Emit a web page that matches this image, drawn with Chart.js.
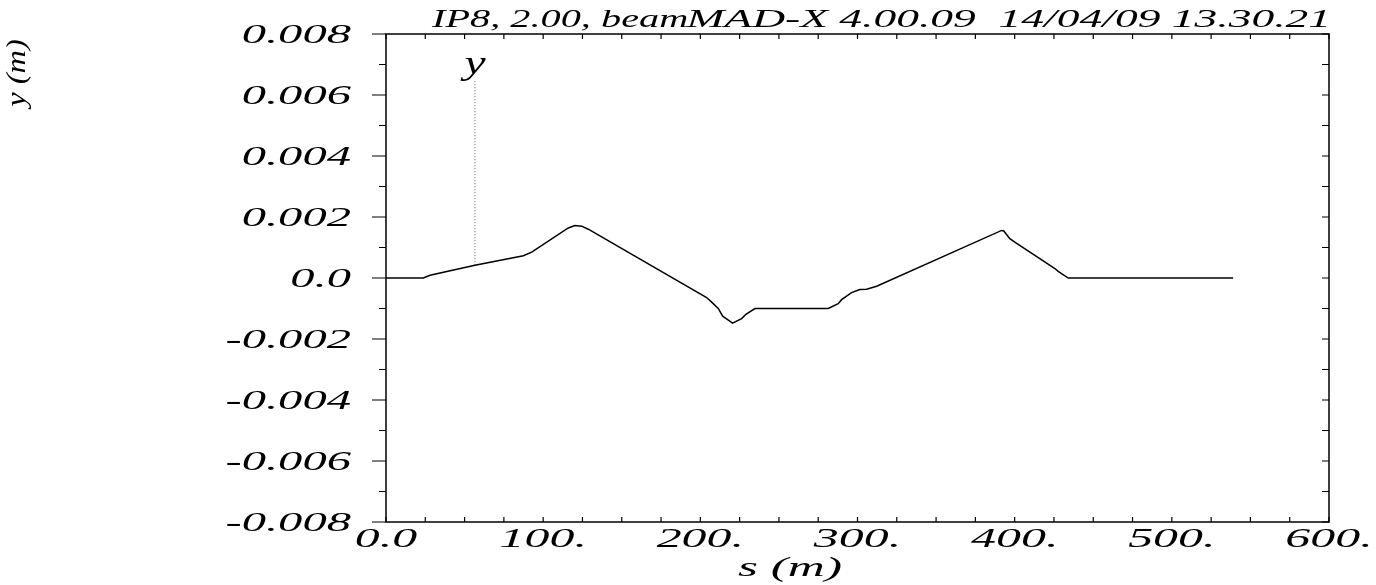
<!DOCTYPE html>
<html>
<head>
<meta charset="utf-8">
<script src="https://cdn.jsdelivr.net/npm/chart.js@4.4.1/dist/chart.umd.min.js"></script>
<style>
  body { margin: 0; background: #fff; }
  #wrap { width: 1376px; height: 585px; position: relative; }
</style>
</head>
<body>
<div id="wrap"><canvas id="orbit"></canvas></div>
<script>
// orbit y(s)
var sPos = [0, 23.8, 28, 56.6, 87.4, 92.7, 116, 120.2, 124.5, 128.7, 204, 207.2, 211.4, 214.2, 216.7,
            220.5, 226.3, 229, 234.7, 281.4, 287.7, 289.9, 296.2, 301.5, 305.8, 312.2, 391.7, 393.1,
            396.9, 400.8, 425.6, 427.7, 434.1, 539];
var yOrbit = [0, 0, 0.00009, 0.00042, 0.00073, 0.00085, 0.00164, 0.00172, 0.0017, 0.0016, -0.00064,
              -0.00079, -0.001, -0.00125, -0.00134, -0.00148, -0.00133, -0.00119, -0.001, -0.001,
              -0.00084, -0.00071, -0.00048, -0.00038, -0.00037, -0.00027, 0.00156, 0.00154, 0.00129,
              0.00115, 0.00031, 0.00022, 0, 0];

// the dotted "y" marker
var markerS = [56.6, 56.6];
var markerY = [0.00042, 0.0065];
var markerLabel = 'y';
var markerLabelY = 0.0069;

// tick labels
var xTickVals = [0, 100, 200, 300, 400, 500, 600];
var xTickLabels = ['0.0', '100.', '200.', '300.', '400.', '500.', '600.'];
var yTickVals = [0.008, 0.006, 0.004, 0.002, 0, -0.002, -0.004, -0.006, -0.008];
var yTickLabels = ['0.008', '0.006', '0.004', '0.002', '0.0', '-0.002', '-0.004', '-0.006', '-0.008'];

var titleLeft = 'IP8, 2.00, beam';
var titleRight = 'MAD-X 4.00.09  14/04/09 13.30.21';
var xTitle = 's (m)';
var yTitle = 'y (m)';

function serif(px) { return 'italic ' + px + 'px "Liberation Serif", serif'; }

function stretchText(ctx, txt, x, y, sx, align, font) {
  ctx.save();
  ctx.font = font;
  ctx.textBaseline = 'alphabetic';
  var w = ctx.measureText(txt).width * sx;
  var x0 = x;
  if (align === 'right') x0 = x - w;
  else if (align === 'center') x0 = x - w / 2;
  ctx.translate(x0, y);
  ctx.scale(sx, 1);
  ctx.fillText(txt, 0, 0);
  ctx.restore();
}

function near(a, b) { return Math.abs(a - b) < 1e-9; }

var madFrame = {
  id: 'madFrame',
  afterDraw: function (chart) {
    var ctx = chart.ctx;
    var a = chart.chartArea;
    var xs = chart.scales.x, ys = chart.scales.y;
    ctx.save();
    ctx.strokeStyle = '#000';
    ctx.fillStyle = '#000';
    ctx.lineWidth = 1.5;
    ctx.strokeRect(a.left, a.top, a.right - a.left, a.bottom - a.top);

    ctx.lineWidth = 1.2;
    ctx.beginPath();
    ys.ticks.forEach(function (t) {
      var py = ys.getPixelForValue(t.value);
      var major = yTickVals.some(function (v) { return near(v, t.value); });
      ctx.moveTo(a.left - (major ? 14 : 7), py); ctx.lineTo(a.left, py);
      ctx.moveTo(a.right - 7, py); ctx.lineTo(a.right, py);
    });
    xs.ticks.forEach(function (t) {
      var px = xs.getPixelForValue(t.value);
      ctx.moveTo(px, a.top); ctx.lineTo(px, a.top + 5);
      ctx.moveTo(px, a.bottom); ctx.lineTo(px, a.bottom - 5);
    });
    ctx.stroke();

    // tick labels
    yTickVals.forEach(function (v, i) {
      stretchText(ctx, yTickLabels[i], a.left - 35, ys.getPixelForValue(v) + 9, 1.8, 'right', serif(27));
    });
    xTickVals.forEach(function (v, i) {
      stretchText(ctx, xTickLabels[i], xs.getPixelForValue(v), a.bottom + 25, 1.85, 'center', serif(27));
    });

    // titles
    stretchText(ctx, titleLeft, 432, 27, 1.55, 'left', serif(26));
    stretchText(ctx, titleRight, 1331, 27, 1.75, 'right', serif(26));
    stretchText(ctx, xTitle, 790, 576, 1.9, 'center', serif(27));

    ctx.save();
    ctx.translate(25, 73);
    ctx.rotate(-Math.PI / 2);
    stretchText(ctx, yTitle, 0, 0, 1.2, 'center', serif(27));
    ctx.restore();

    // marker label
    stretchText(ctx, markerLabel, xs.getPixelForValue(markerS[0]), ys.getPixelForValue(markerLabelY) + 6,
                1.4, 'center', serif(34));
    ctx.restore();
  }
};

var ctx = document.getElementById('orbit');
var chart = new Chart(ctx, {
  type: 'line',
  data: {
    datasets: [{
      data: sPos.map(function (s, i) { return { x: s, y: yOrbit[i] }; }),
      borderColor: '#000',
      borderWidth: 1.5,
      pointRadius: 0,
      tension: 0
    }, {
      data: markerS.map(function (s, i) { return { x: s, y: markerY[i] }; }),
      borderColor: '#555',
      borderWidth: 1,
      borderDash: [1, 2],
      pointRadius: 0
    }]
  },
  options: {
    responsive: true,
    maintainAspectRatio: false,
    animation: false,
    layout: { padding: { left: 0, top: 34, right: 47, bottom: 0 } },
    plugins: { legend: { display: false }, tooltip: { enabled: false } },
    scales: {
      x: {
        type: 'linear', min: 0, max: 600,
        ticks: { display: false, stepSize: 25 },
        grid: { display: false },
        border: { display: false },
        afterFit: function (sc) { sc.height = 63; }
      },
      y: {
        min: -0.008, max: 0.008,
        ticks: { display: false, stepSize: 0.001 },
        grid: { display: false },
        border: { display: false },
        afterFit: function (sc) { sc.width = 386; }
      }
    }
  },
  plugins: [madFrame]
});
</script>
</body>
</html>
